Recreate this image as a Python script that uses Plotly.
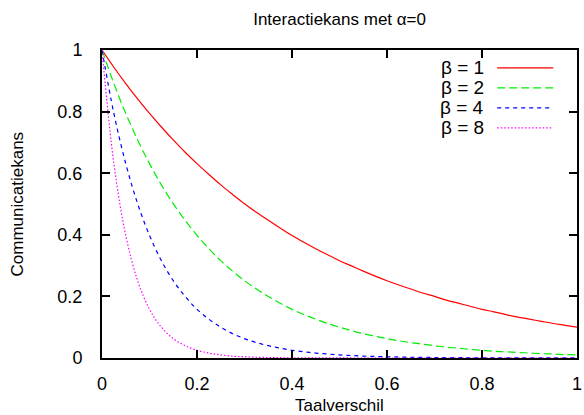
import plotly.graph_objects as go

# x grid (Taalverschil)
x_vals = [round(0.025 * k, 3) for k in range(41)]

# Communicatiekans
beta1 = [1.000, 0.944, 0.891, 0.841, 0.794, 0.750, 0.708, 0.668, 0.631, 0.596,
         0.562, 0.531, 0.501, 0.473, 0.447, 0.422, 0.398, 0.376, 0.355, 0.335,
         0.316, 0.299, 0.282, 0.266, 0.251, 0.237, 0.224, 0.211, 0.200, 0.188,
         0.178, 0.168, 0.158, 0.150, 0.141, 0.133, 0.126, 0.119, 0.112, 0.106, 0.100]
beta2 = [1.000, 0.891, 0.794, 0.708, 0.631, 0.562, 0.501, 0.447, 0.398, 0.355,
         0.316, 0.282, 0.251, 0.224, 0.200, 0.178, 0.158, 0.141, 0.126, 0.112,
         0.100, 0.089, 0.079, 0.071, 0.063, 0.056, 0.050, 0.045, 0.040, 0.035,
         0.032, 0.028, 0.025, 0.022, 0.020, 0.018, 0.016, 0.014, 0.013, 0.011, 0.010]
beta4 = [1.000, 0.794, 0.631, 0.501, 0.398, 0.316, 0.251, 0.200, 0.158, 0.126,
         0.100, 0.079, 0.063, 0.050, 0.040, 0.032, 0.025, 0.020, 0.016, 0.013,
         0.010, 0.008, 0.006, 0.005, 0.004, 0.003, 0.0025, 0.002, 0.0016, 0.0013,
         0.001, 0.0008, 0.0006, 0.0005, 0.0004, 0.0003, 0.00025, 0.0002, 0.00016, 0.00013, 0.0001]
beta8 = [1.000, 0.631, 0.398, 0.251, 0.158, 0.100, 0.063, 0.040, 0.025, 0.016,
         0.010, 0.006, 0.004, 0.0025, 0.0016, 0.001, 0.0006, 0.0004, 0.00025, 0.00016,
         0.0001, 0.0001, 0.0, 0.0, 0.0, 0.0, 0.0, 0.0, 0.0, 0.0,
         0.0, 0.0, 0.0, 0.0, 0.0, 0.0, 0.0, 0.0, 0.0, 0.0, 0.0]

series_names = ["β = 1", "β = 2", "β = 4", "β = 8"]
series_vals = [beta1, beta2, beta4, beta8]
colors = ["#ff0000", "#00ee00", "#0000ff", "#ff00ff"]
dashes = ["solid", "8px,4px", "4px,4px", "1.5px,2px"]

tick_vals = [0, 0.2, 0.4, 0.6, 0.8, 1]
tick_text = ["0", "0.2", "0.4", "0.6", "0.8", "1"]

FONT = "Liberation Sans, Arial, sans-serif"

fig = go.Figure()
for name, ys, c, d in zip(series_names, series_vals, colors, dashes):
    fig.add_trace(go.Scatter(x=x_vals, y=ys, mode="lines", name=name,
                             line=dict(color=c, width=1.2, dash=d, shape="spline"),
                             showlegend=False, cliponaxis=True))

# gnuplot-style key: text on the left, sample on the right
legend_y = [0.942, 0.877, 0.812, 0.747]
for name, c, d, ly in zip(series_names, colors, dashes, legend_y):
    fig.add_annotation(x=0.808, y=ly, xref="paper", yref="paper", text=name,
                       showarrow=False, xanchor="right", yanchor="middle",
                       font=dict(family=FONT, size=19, color="black"))
    fig.add_shape(type="line", xref="paper", yref="paper",
                  x0=0.832, x1=0.95, y0=ly, y1=ly,
                  line=dict(color=c, width=1.2, dash=d))

# axis titles placed as in the reference
fig.add_annotation(x=0.5, y=-0.155, xref="paper", yref="paper", text="Taalverschil",
                   showarrow=False, xanchor="center", yanchor="middle",
                   font=dict(family=FONT, size=17, color="black"))
fig.add_annotation(x=-0.178, y=0.5, xref="paper", yref="paper", text="Communicatiekans",
                   showarrow=False, xanchor="center", yanchor="middle", textangle=-90,
                   font=dict(family=FONT, size=17, color="black"))

axis_common = dict(range=[0, 1], tickvals=tick_vals, ticktext=tick_text,
                   ticks="inside", ticklen=8, tickwidth=1.5, tickcolor="black",
                   showline=True, linecolor="black", linewidth=2, mirror="ticks",
                   showgrid=False, zeroline=False, automargin=False,
                   ticklabeloverflow="allow",
                   tickfont=dict(family=FONT, size=18, color="black"))

fig.update_layout(
    width=584, height=415,
    margin=dict(l=102, r=7, t=50, b=57),
    paper_bgcolor="white", plot_bgcolor="white",
    title=dict(text="Interactiekans met α=0", x=0.5815, xanchor="center",
               y=0.955, yanchor="middle",
               font=dict(family=FONT, size=17, color="black")),
    xaxis=dict(**axis_common, ticklabelstandoff=8),
    yaxis=dict(**axis_common, ticklabelstandoff=14),
)

fig.write_html("out.html", config={"displayModeBar": False})

# remove the browser's default page margin so the figure sits at (0, 0)
with open("out.html", "r", encoding="utf-8") as f:
    html = f.read()
html = html.replace("<body>", "<body style=\"margin:0;padding:0;overflow:hidden\">", 1)
with open("out.html", "w", encoding="utf-8") as f:
    f.write(html)
